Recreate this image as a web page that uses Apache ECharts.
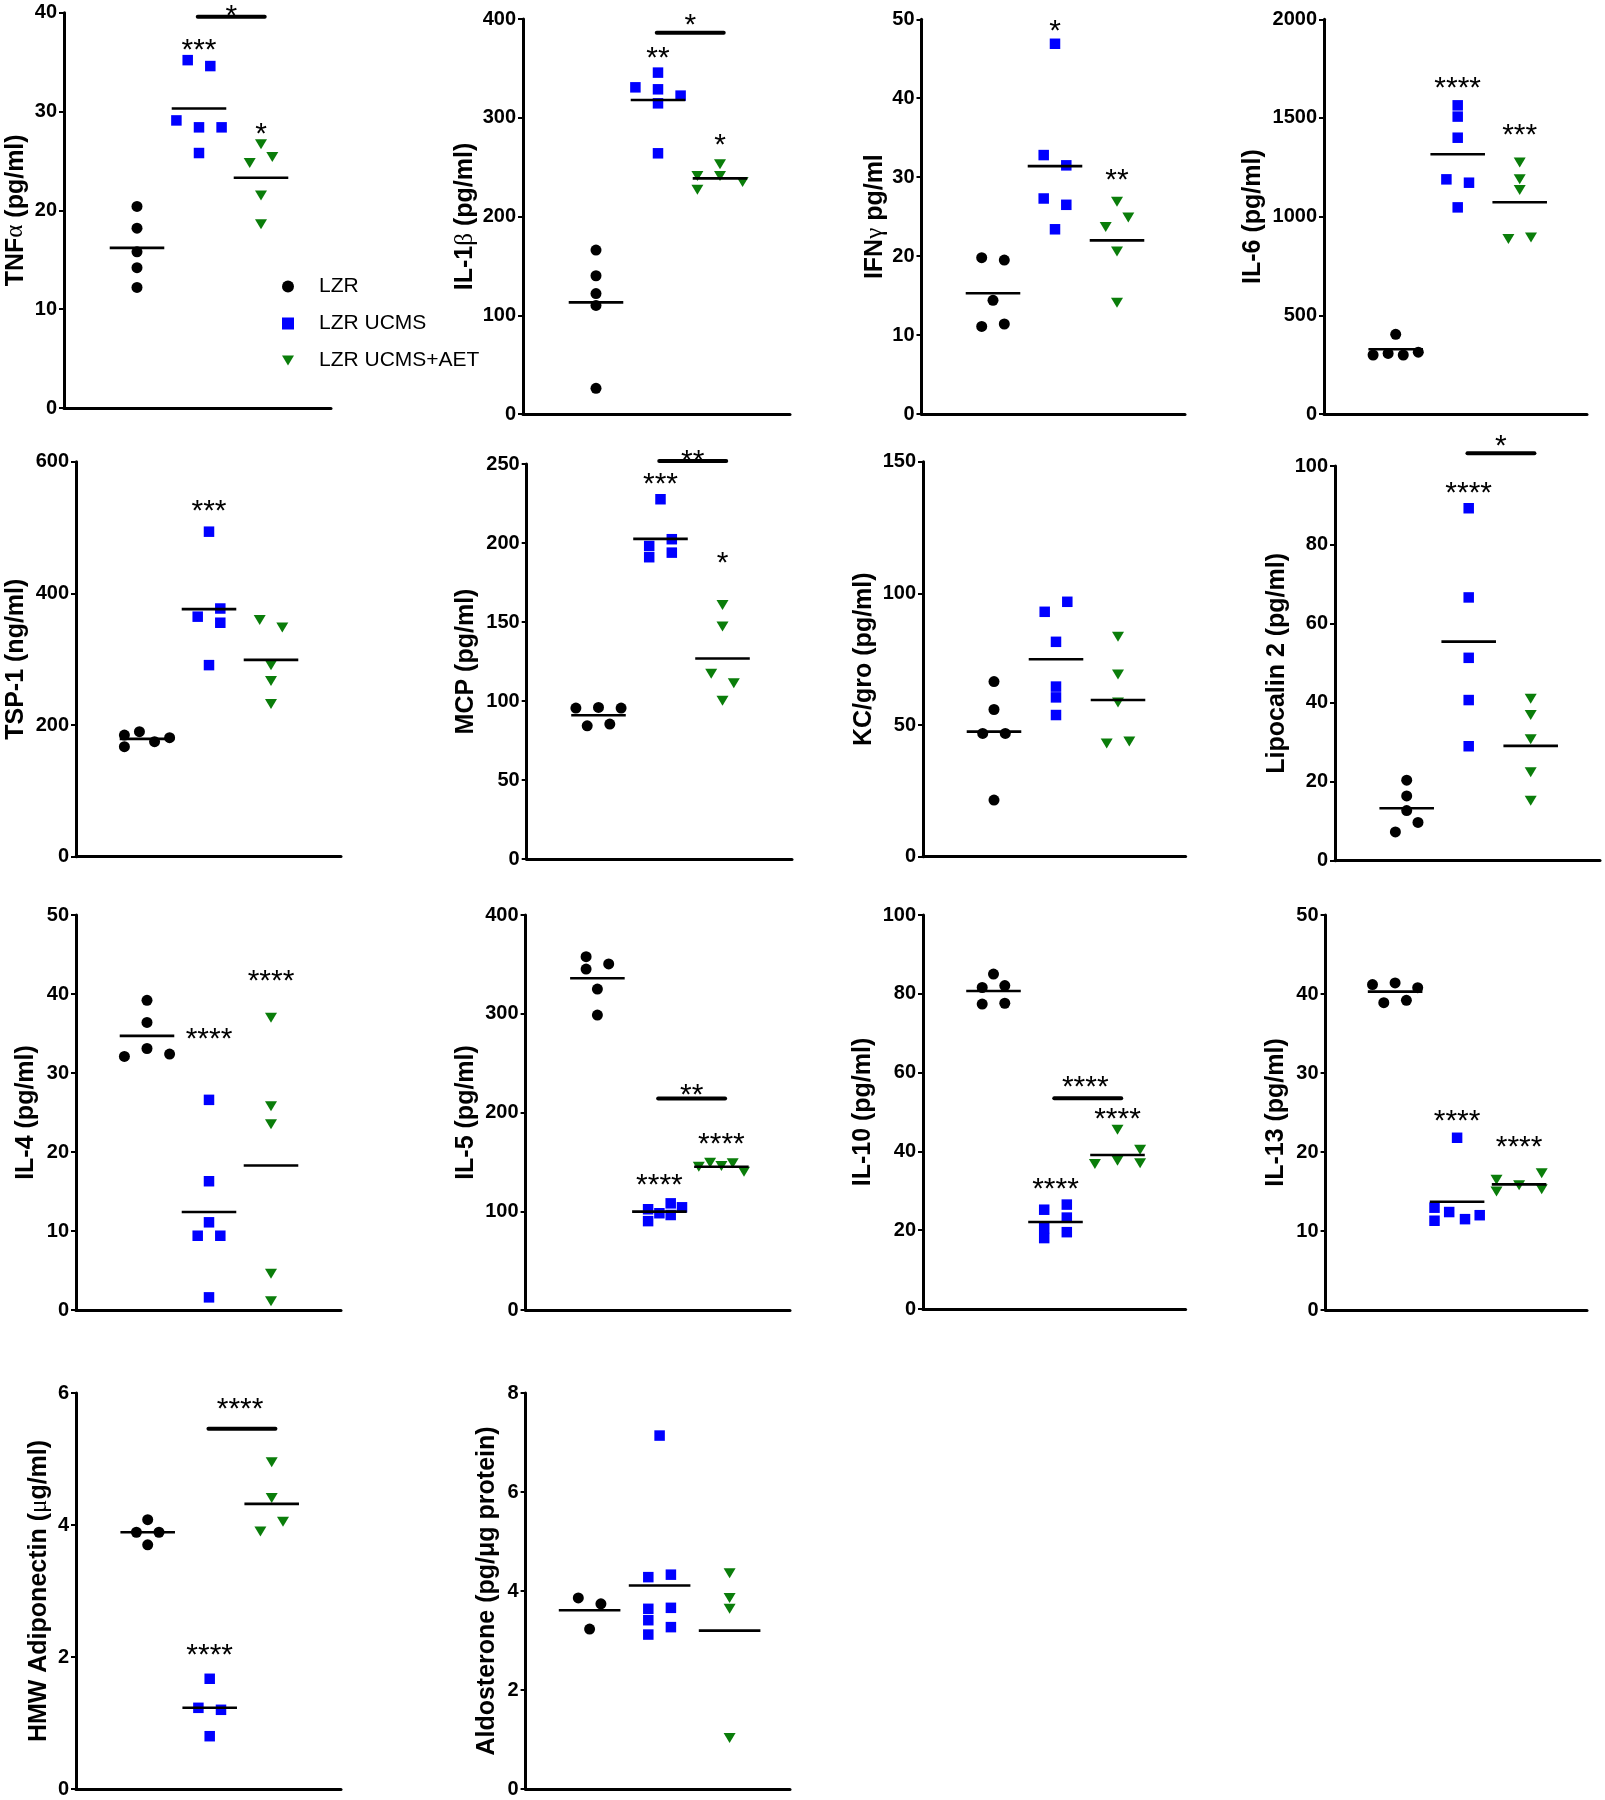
<!DOCTYPE html>
<html><head><meta charset="utf-8">
<script src="https://cdn.jsdelivr.net/npm/echarts@6/dist/echarts.min.js"></script>
<style>html,body{margin:0;padding:0;background:#fff}#c{width:1605px;height:1800px}</style>
</head><body><div id="c"></div><script>
// ---------------- DATA ----------------
const GROUPS = ['LZR', 'LZR UCMS', 'LZR UCMS+AET'];

// TNFα
const tnfLZR = [20.4, 18.2, 15.8, 14.2, 12.2];
const tnfUCMS = [35.2, 34.6, 29.1, 28.4, 28.4, 25.8];
const tnfAET = [26.7, 24.8, 25.4, 21.5, 18.6];
const tnfMean = [16.2, 30.3, 23.3];
const tnfSpread = [[0,0,0,0,0], [-1,1,-2,0,2,0], [0,-1,1,0,0]];
const tnfStarPos = [[2, 36.9], [3, 28.4], [2.52, 40.3]];
const tnfStarText = ['***', '*', '*'];
const tnfBracket = [39.6];

// IL-1β
const il1LZR = [166, 140, 122, 110, 26];
const il1UCMS = [345.7, 330.8, 328.8, 322.4, 314.6, 264];
const il1AET = [253, 241, 241, 235, 227];
const il1Mean = [113, 318, 238.6];
const il1Spread = [[0,0,0,0,0], [0,-2,0,2,0,0], [0,-2,0,2,-2]];
const il1StarPos = [[2, 367], [3, 279], [2.52, 400]];
const il1StarText = ['**', '*', '*'];
const il1Bracket = [386];

// IFNγ
const ifnLZR = [19.8, 19.5, 14.4, 11.1, 11.4];
const ifnUCMS = [46.9, 32.8, 31.5, 27.3, 26.5, 23.4];
const ifnAET = [26.9, 24.9, 23.7, 20.6, 14.1];
const ifnMean = [15.3, 31.4, 22.0];
const ifnSpread = [[-1,1,0,-1,1], [0,-1,1,-1,1,0], [0,1,-1,0,0]];
const ifnStarPos = [[2, 49.3], [3, 30.4]];
const ifnStarText = ['*', '**'];
const ifnBracket = [];

// IL-6
const il6LZR = [404, 299, 307, 299, 313];
const il6UCMS = [1564, 1507, 1400, 1189, 1172, 1047];
const il6AET = [1274, 1189, 1135, 887, 894];
const il6Mean = [328, 1316, 1073];
const il6Spread = [[0,-2,-0.67,0.67,2], [0,0,0,-1,1,0], [0,0,0,-1,1]];
const il6StarPos = [[2, 1684], [3, 1443]];
const il6StarText = ['****', '***'];
const il6Bracket = [];

// TSP-1
const tspLZR = [184.8, 189.9, 174.7, 180.8, 167.1];
const tspUCMS = [493.7, 377, 364.6, 355.4, 291];
const tspAET = [359.5, 348, 291, 267, 232];
const tspMean = [179, 376, 299];
const tspSpread = [[-2,-0.67,0.67,2,-2], [0,1,-1,1,0], [-1,1,0,0,0]];
const tspStarPos = [[2, 534]];
const tspStarText = ['***'];
const tspBracket = [];

// MCP
const mcpLZR = [95.5, 95.9, 95.5, 84.3, 85.4];
const mcpUCMS = [227.7, 202.4, 198.1, 193.9, 191];
const mcpAET = [160.8, 147.1, 117.2, 111.3, 100.1];
const mcpMean = [91, 202.6, 126.9];
const mcpSpread = [[-2,0,2,-1,1], [0,1,-1,1,-1], [0,0,-1,1,0]];
const mcpStarPos = [[2, 241], [3, 191], [2.52, 255.7]];
const mcpStarText = ['***', '*', '**'];
const mcpBracket = [251.9];

// KC/gro
const kcLZR = [66.5, 55.9, 46.8, 46.8, 21.5];
const kcUCMS = [96.8, 93, 81.6, 64.6, 60.5, 53.8];
const kcAET = [83.5, 69.2, 58.6, 43, 43.7];
const kcMean = [47.5, 75, 59.5];
const kcSpread = [[0,0,-1,1,0], [1,-1,0,0,0,0], [0,0,0,-1,1]];
const kcStarPos = [];
const kcStarText = [];
const kcBracket = [];

// Lipocalin 2
const lcnLZR = [20.4, 16.4, 12.7, 9.7, 7.3];
const lcnUCMS = [89.3, 66.7, 51.4, 40.7, 29];
const lcnAET = [41, 36.9, 30.8, 22.4, 15.2];
const lcnMean = [13.3, 55.5, 29.1];
const lcnSpread = [[0,0,0,1,-1], [0,0,0,0,0], [0,0,0,0,0]];
const lcnStarPos = [[2, 94.8], [2.52, 106.6]];
const lcnStarText = ['****', '*'];
const lcnBracket = [103.2];

// IL-4
const il4LZR = [39.2, 36.4, 33.1, 32.1, 32.4];
const il4UCMS = [26.6, 16.3, 11.1, 9.4, 9.4, 1.6];
const il4AET = [37, 25.8, 23.5, 4.6, 1.1];
const il4Mean = [34.7, 12.4, 18.3];
const il4Spread = [[0,0,0,-2,2], [0,0,0,-1,1,0], [0,0,0,0,0]];
const il4StarPos = [[2, 35.1], [3, 42.5]];
const il4StarText = ['****', '****'];
const il4Bracket = [];

// IL-5
const il5LZR = [357.8, 350.4, 345.3, 325, 298.7];
const il5UCMS = [108, 104, 102, 98, 96.2, 90];
const il5AET = [149.2, 148.5, 145.1, 145.8, 140];
const il5Mean = [335.9, 99.6, 145.1];
const il5Spread = [[-1,1,-1,0,0], [1,2,-1,0,1,-1], [-1,1,-2,0,2]];
const il5StarPos = [[2.52, 223.8], [2, 133.3], [3, 174.9]];
const il5StarText = ['**', '****', '****'];
const il5Bracket = [214.3];

// IL-10
const il10LZR = [85, 81.6, 82.1, 77.4, 77.6];
const il10UCMS = [26.5, 25.2, 23.2, 20.5, 19.5, 18];
const il10AET = [45.5, 40.4, 36.8, 37.6, 37];
const il10Mean = [80.7, 22.1, 39.1];
const il10Spread = [[0,-1,1,-1,1], [1,-1,1,-1,1,-1], [0,2,-2,0,2]];
const il10StarPos = [[2.48, 57.9], [3, 49.9], [2, 32]];
const il10StarText = ['****', '****', '****'];
const il10Bracket = [53.5];

// IL-13
const il13LZR = [41.2, 41.4, 40.8, 38.9, 39.2];
const il13UCMS = [21.8, 12.95, 12.4, 12.0, 11.5, 11.3];
const il13AET = [17.3, 16.5, 15.8, 15, 15.3];
const il13Mean = [40.3, 13.7, 15.9];
const il13Spread = [[-2,0,2,-1,1], [0,-2,-0.7,2,0.7,-2], [2,-2,0,-2,2]];
const il13StarPos = [[2, 24.7], [3, 21.4]];
const il13StarText = ['****', '****'];
const il13Bracket = [];

// HMW Adiponectin
const hmwLZR = [4.08, 3.89, 3.89, 3.7];
const hmwUCMS = [1.67, 1.23, 1.2, 0.8];
const hmwAET = [4.95, 4.41, 4.05, 3.9];
const hmwMean = [3.89, 1.23, 4.32];
const hmwSpread = [[0,-1,1,0], [0,-1,1,0], [0,0,1,-1]];
const hmwStarPos = [[2, 2.13], [2.49, 5.85]];
const hmwStarText = ['****', '****'];
const hmwBracket = [5.46];

// Aldosterone
const aldLZR = [3.86, 3.74, 3.23];
const aldUCMS = [7.14, 4.33, 4.28, 3.64, 3.66, 3.41, 3.27, 3.12];
const aldAET = [4.36, 3.86, 3.64, 1.03];
const aldMean = [3.61, 4.11, 3.2];
const aldSpread = [[-1,1,0], [0,1,-1,-1,1,-1,1,-1], [0,0,0,0]];
const aldStarPos = [];
const aldStarText = [];
const aldBracket = [];

// ---------------- LAYOUT / STYLE ----------------
const FONT = "'Liberation Sans', Arial, Helvetica, sans-serif";
const SERIF = "'Liberation Serif', 'Times New Roman', serif";
const COLORS = ['#000000', '#0000ff', '#0a7d0a'];
const SYMS = ['circle', 'rect', 'triangle'];
const SIZES = [11, 10.5, [12, 10]];
const SLOT_PX = 11.3;
const HALF = 0.44;
const BR = [1.98, 3.06];
const STAR_DY = 7;
const DOWN_TRIANGLE = 'path://M0,0L12,0L6,10Z';

const panels = [
  {name:'{b|TNF}{g|α}{b| (pg/ml)}', max:40, interval:10, vals:[tnfLZR,tnfUCMS,tnfAET], spread:tnfSpread, mean:tnfMean, starPos:tnfStarPos, starText:tnfStarText, bracket:tnfBracket, rect:[64,12.7,331,408], dist:48.6, first:73, step:62},
  {name:'{b|IL-1}{g|β}{b| (pg/ml)}', max:400, interval:100, vals:[il1LZR,il1UCMS,il1AET], spread:il1Spread, mean:il1Mean, starPos:il1StarPos, starText:il1StarText, bracket:il1Bracket, rect:[523,19,790,414], dist:58, first:73, step:62},
  {name:'{b|IFN}{g|γ}{b| pg/ml}', max:50, interval:10, vals:[ifnLZR,ifnUCMS,ifnAET], spread:ifnSpread, mean:ifnMean, starPos:ifnStarPos, starText:ifnStarText, bracket:ifnBracket, rect:[921.5,19.3,1185,414], dist:47, first:71.5, step:62},
  {name:'{b|IL-6 (pg/ml)}', max:2000, interval:500, vals:[il6LZR,il6UCMS,il6AET], spread:il6Spread, mean:il6Mean, starPos:il6StarPos, starText:il6StarText, bracket:il6Bracket, rect:[1324,19.3,1587,414], dist:71, first:71.7, step:62},
  {name:'{b|TSP-1 (ng/ml)}', max:600, interval:200, vals:[tspLZR,tspUCMS,tspAET], spread:tspSpread, mean:tspMean, starPos:tspStarPos, starText:tspStarText, bracket:tspBracket, rect:[76,461.7,341,856.7], dist:60.6, first:71, step:62},
  {name:'{b|MCP (pg/ml)}', max:250, interval:50, vals:[mcpLZR,mcpUCMS,mcpAET], spread:mcpSpread, mean:mcpMean, starPos:mcpStarPos, starText:mcpStarText, bracket:mcpBracket, rect:[526.7,464,792,859], dist:60.7, first:71.8, step:62},
  {name:'{b|KC/gro (pg/ml)}', max:150, interval:50, vals:[kcLZR,kcUCMS,kcAET], spread:kcSpread, mean:kcMean, starPos:kcStarPos, starText:kcStarText, bracket:kcBracket, rect:[923,461.7,1185.6,856.7], dist:59, first:71, step:62},
  {name:'{b|Lipocalin 2 (pg/ml)}', max:100, interval:20, vals:[lcnLZR,lcnUCMS,lcnAET], spread:lcnSpread, mean:lcnMean, starPos:lcnStarPos, starText:lcnStarText, bracket:lcnBracket, rect:[1335,466,1600,860.7], dist:58, first:71.7, step:62},
  {name:'{b|IL-4 (pg/ml)}', max:50, interval:10, vals:[il4LZR,il4UCMS,il4AET], spread:il4Spread, mean:il4Mean, starPos:il4StarPos, starText:il4StarText, bracket:il4Bracket, rect:[76,915,341,1310], dist:50.4, first:71, step:62},
  {name:'{b|IL-5 (pg/ml)}', max:400, interval:100, vals:[il5LZR,il5UCMS,il5AET], spread:il5Spread, mean:il5Mean, starPos:il5StarPos, starText:il5StarText, bracket:il5Bracket, rect:[525.6,915,790,1310], dist:59.6, first:71.8, step:62},
  {name:'{b|IL-10 (pg/ml)}', max:100, interval:20, vals:[il10LZR,il10UCMS,il10AET], spread:il10Spread, mean:il10Mean, starPos:il10StarPos, starText:il10StarText, bracket:il10Bracket, rect:[923,915,1185.6,1309], dist:60, first:70.5, step:62},
  {name:'{b|IL-13 (pg/ml)}', max:50, interval:10, vals:[il13LZR,il13UCMS,il13AET], spread:il13Spread, mean:il13Mean, starPos:il13StarPos, starText:il13StarText, bracket:il13Bracket, rect:[1325.6,915,1587,1310], dist:49.6, first:69.5, step:62},
  {name:'{b|HMW Adiponectin (}{g|μ}{b|g/ml)}', max:6, interval:2, vals:[hmwLZR,hmwUCMS,hmwAET], spread:hmwSpread, mean:hmwMean, starPos:hmwStarPos, starText:hmwStarText, bracket:hmwBracket, rect:[76,1393,341,1789], dist:37, first:71.7, step:62},
  {name:'{b|Aldosterone (pg/μg protein)}', max:8, interval:2, vals:[aldLZR,aldUCMS,aldAET], spread:aldSpread, mean:aldMean, starPos:aldStarPos, starText:aldStarText, bracket:aldBracket, rect:[525.6,1393,790,1789], dist:38.6, first:64, step:70}
];

// ---------------- BUILD ----------------
const grid = [], xAxis = [], yAxis = [], series = [];
panels.forEach((p, i) => {
  const [l, t, r, b] = p.rect;
  grid.push({left: l, top: t, width: r - l, height: b - t, containLabel: false});
  const xmin = 1 - p.first / p.step;
  const xmax = xmin + (r - l) / p.step;
  xAxis.push({type:'value', gridIndex:i, min:xmin, max:xmax,
    axisLine:{show:true, onZero:false, lineStyle:{color:'#000', width:3}},
    axisTick:{show:false}, axisLabel:{show:false}, splitLine:{show:false}});
  yAxis.push({type:'value', gridIndex:i, min:0, max:p.max, interval:p.interval,
    axisLine:{show:true, onZero:false, lineStyle:{color:'#000', width:3}},
    axisTick:{show:true, length:5, lineStyle:{color:'#000', width:2}},
    axisLabel:{fontSize:20, fontWeight:'bold', fontFamily:FONT, color:'#000', margin:7,
      formatter: v => String(v)},
    splitLine:{show:false},
    name:p.name, nameLocation:'middle', nameGap:p.dist - 13,
    nameTextStyle:{fontSize:25, fontWeight:'bold', fontFamily:FONT, color:'#000',
      rich:{b:{fontSize:25, fontWeight:'bold', fontFamily:FONT, color:'#000'},
            g:{fontSize:25, fontWeight:'normal', fontFamily:SERIF, color:'#000'}}}});
  const slot = SLOT_PX / p.step;
  p.vals.forEach((vals, g) => {
    series.push({type:'scatter', name:GROUPS[g], xAxisIndex:i, yAxisIndex:i,
      symbol:SYMS[g], symbolSize:SIZES[g], symbolRotate:g === 2 ? 180 : 0,
      itemStyle:{color:COLORS[g], opacity:1}, z:3, silent:true,
      data: vals.map((v, k) => [g + 1 + p.spread[g][k] * slot, v])});
  });
  // mean lines
  series.push({type:'custom', xAxisIndex:i, yAxisIndex:i, silent:true, z:4,
    encode:{x:0, y:1},
    data: p.mean.map((m, g) => [g + 1, m]),
    renderItem: (params, api) => {
      const gx = api.value(0), m = api.value(1);
      const a = api.coord([gx - HALF, m]), c = api.coord([gx + HALF, m]);
      return {type:'line', shape:{x1:a[0], y1:a[1], x2:c[0], y2:c[1]},
        style:{stroke:'#000', lineWidth:2.6}};
    }});
  // brackets
  if (p.bracket.length) {
    series.push({type:'custom', xAxisIndex:i, yAxisIndex:i, silent:true, z:4,
      encode:{x:0, y:1},
      data: p.bracket.map(y => [(BR[0] + BR[1]) / 2, y]),
      renderItem: (params, api) => {
        const y = api.value(1);
        const a = api.coord([BR[0], y]), c = api.coord([BR[1], y]);
        return {type:'line', shape:{x1:a[0], y1:a[1], x2:c[0], y2:c[1]},
          style:{stroke:'#000', lineWidth:4, lineCap:'round'}};
      }});
  }
  // significance stars
  if (p.starPos.length) {
    const texts = p.starText;
    series.push({type:'custom', xAxisIndex:i, yAxisIndex:i, silent:true, z:5,
      encode:{x:0, y:1},
      data: p.starPos.map(s => [s[0], s[1]]),
      renderItem: (params, api) => {
        const pt = api.coord([api.value(0), api.value(1)]);
        return {type:'text', x:pt[0], y:pt[1] + STAR_DY,
          style:{text:texts[params.dataIndex], fill:'#000', fontSize:30,
            fontFamily:FONT, align:'center', verticalAlign:'middle'}};
      }});
  }
});

const chart = echarts.init(document.getElementById('c'), null, {renderer:'canvas'});
chart.setOption({
  animation:false,
  backgroundColor:'#fff',
  grid, xAxis, yAxis, series,
  legend:{
    data:[{name:GROUPS[0], icon:'circle'}, {name:GROUPS[1], icon:'rect'}, {name:GROUPS[2], icon:DOWN_TRIANGLE}],
    orient:'vertical', left:277, top:271, itemWidth:12, itemHeight:12,
    itemGap:16, selectedMode:false,
    textStyle:{fontSize:21, fontFamily:FONT, color:'#000', padding:[0,0,0,20], lineHeight:21}}
});
</script></body></html>
